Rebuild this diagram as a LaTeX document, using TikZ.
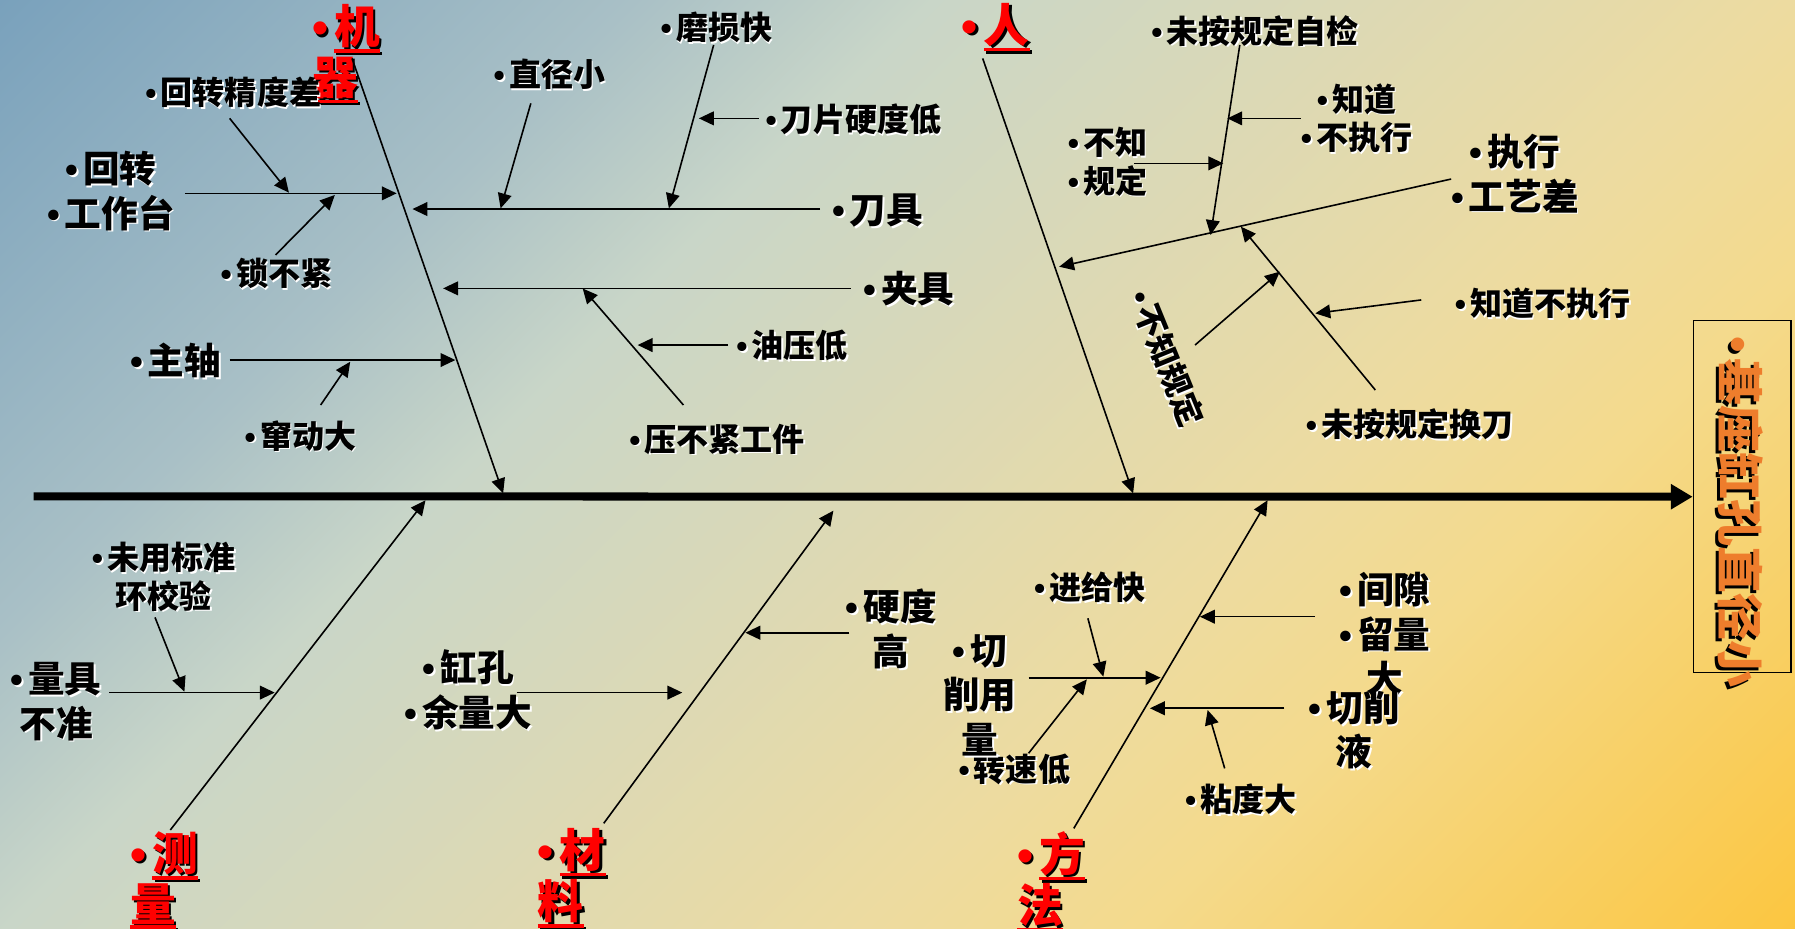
\documentclass[tikz,border=0pt]{standalone}
\usepackage{fontspec}
\setmainfont{Noto Sans CJK SC}
\newfontfamily\lat{Liberation Sans}
\usetikzlibrary{arrows.meta}
\definecolor{bgA}{HTML}{79A1BC}
\definecolor{bgB}{HTML}{A9C0C6}
\definecolor{bgC}{HTML}{C9D6C8}
\definecolor{bgD}{HTML}{DCD9B5}
\definecolor{bgE}{HTML}{EDDBA0}
\definecolor{bgF}{HTML}{F4DA8C}
\definecolor{bgG}{HTML}{FCC640}
\definecolor{ttlc}{HTML}{EE7D2C}
\pgfdeclarehorizontalshading{bgshade}{100bp}{color(0bp)=(bgA); color(23bp)=(bgA); color(35.6bp)=(bgB); color(41.5bp)=(bgC); color(50bp)=(bgD); color(58.5bp)=(bgE); color(64bp)=(bgF); color(77bp)=(bgG); color(100bp)=(bgG)}
\newcommand\bl{{\lat •}\hspace{0.13em}}
\newcommand\sw[1]{\leavevmode\rlap{\kern1.5pt\raisebox{-1.5pt}{\color{white}#1}}#1}
\newcommand\sr[1]{\leavevmode\rlap{\kern2pt\raisebox{-2pt}{\color{black}#1}}{\color{red}#1}}
\newcommand\so[1]{\leavevmode\rlap{\kern2.5pt\raisebox{-2.5pt}{\color{black}#1}}{\color{ttlc}#1}}
\newcommand\ul[1]{\vtop{\hbox{#1}\kern1pt\hrule height 3pt}}
\tikzset{
  sm/.style={inner sep=0pt, font=\fontsize{28}{33.5}\selectfont\bfseries, align=center},
  lg/.style={inner sep=0pt, font=\fontsize{32}{39}\selectfont\bfseries, align=center},
  hd/.style={inner sep=0pt, font=\fontsize{40}{44}\selectfont\bfseries, align=left, anchor=west},
  ar/.style={line width=1.4pt, -{Triangle[length=13pt,width=12pt]}},
  spinestyle/.style={line width=7pt, -{Triangle[length=19pt,width=21pt]}}
}
\begin{document}
\begin{tikzpicture}[x=1pt,y=-1pt]
\useasboundingbox (0,0) rectangle (1568,811);
\begin{scope}
\clip (0,0) rectangle (1568,811);
\shade[shading=bgshade, shading angle=-45] (0,-378.5) rectangle (1568,1189.5);
\end{scope}

% effect box and title
\node[draw, line width=1.3pt, minimum width=85.3pt, minimum height=307.5pt, inner sep=0pt] (box) at (1521.9,433.9) {};
\node[rotate=-90, inner sep=0pt, font=\fontsize{41}{41}\selectfont\bfseries] (ttl) at (1519,447) {\so{\bl 基座缸孔直径小}};

% spine
\coordinate (sp0) at (29.4,433.6);
\draw[spinestyle] (sp0) -- (box.west);

% headings
\node[hd] (jq) at (272.5,48) {\sr{\bl\ul{机}}\\\sr{\ul{器}}};
\node[hd] (ren) at (840,25) {\sr{\bl\ul{人}}};
\node[hd] (cl) at (113.7,770) {\sr{\bl\ul{测}}\\\sr{\ul{量}}};
\node[hd] (cai) at (469.7,768) {\sr{\bl\ul{材}}\\\sr{\ul{料}}};
\node[hd] (ff) at (888.5,771) {\sr{\bl\ul{方}}\\\sr{\ul{法}}};

% small labels
\node[sm] (jdc) at (203.8,81.5) {\sw{\bl 回转精度差}};
\node[sm] (sbj) at (241.5,239.4) {\sw{\bl 锁不紧}};
\node[sm] (cdd) at (262.4,381.4) {\sw{\bl 窜动大}};
\node[sm] (zjx) at (480,65.5) {\sw{\bl 直径小}};
\node[sm] (msk) at (625.9,24.7) {\sw{\bl 磨损快}};
\node[sm] (dpy) at (745.5,104.8) {\sw{\bl 刀片硬度低}};
\node[sm] (yyd) at (692,302.8) {\sw{\bl 油压低}};
\node[sm] (ybj) at (626.5,384.4) {\sw{\bl 压不紧工件}};
\node[sm] (wzj) at (1096.4,27.7) {\sw{\bl 未按规定自检}};
\node[sm] (zdb) at (1185,104) {\sw{\bl 知道}\\\sw{\bl 不执行}};
\node[sm] (bzg) at (967.5,142) {\sw{\bl 不知}\\\sw{\bl 规定}};
\node[sm, rotate=-67.8] (bzgd) at (1019,313) {\sw{\bl 不知规定}};
\node[sm] (hdj) at (1231.4,371.2) {\sw{\bl 未按规定换刀}};
\node[sm] (zdbz) at (1347.5,265.6) {\sw{\bl 知道不执行}};
\node[sm] (wyb) at (142.9,504.5) {\sw{\bl 未用标准}\\\sw{环校验}};
\node[sm] (jgk) at (952,513.9) {\sw{\bl 进给快}};
\node[sm] (zsd) at (886,672.6) {\sw{\bl 转速低}};
\node[sm] (ndd) at (1084,698.8) {\sw{\bl 粘度大}};

% large labels
\node[lg] (hzt) at (96.9,167.5) {\sw{\bl 回转}\\\sw{\bl 工作台}};
\node[lg] (zz) at (153.5,316) {\sw{\bl 主轴}};
\node[lg] (dj) at (766.8,185) {\sw{\bl 刀具}};
\node[lg] (jj) at (794.2,252.7) {\sw{\bl 夹具}};
\node[lg] (zx) at (1323.4,152.2) {\sw{\bl 执行}\\\sw{\bl 工艺差}};
\node[lg] (lj) at (49,613.5) {\sw{\bl 量具}\\\sw{不准}};
\node[lg] (gk) at (409,603.4) {\sw{\bl 缸孔}\\\sw{\bl 余量大}};
\node[lg] (yd) at (778.5,550.4) {\sw{\bl 硬度}\\\sw{高}};
\node[lg] (qx) at (856,608) {\sw{\bl 切}\\\sw{削用}\\\sw{量}};
\node[lg] (jx) at (1209.8,554.7) {\sw{\bl 间隙}\\\sw{\bl 留量}\\\sw{大}};
\node[lg] (qy) at (1183,638.2) {\sw{\bl 切削}\\\sw{液}};

% ---------- coordinates ----------
\coordinate (mA) at (307.5,51);   \coordinate (mB) at (439.5,431);
\coordinate (pA) at (858.4,51);   \coordinate (pB) at (989.8,431);
\coordinate (cA) at (148.8,725);  \coordinate (cB) at (371.7,437);
\coordinate (tA) at (527.4,719.2);\coordinate (tB) at (728,446.1);
\coordinate (fA) at (938,723.6);  \coordinate (fB) at (1107.3,437);
\coordinate (hzA) at (161.5,168.9); \coordinate (hzB) at (346.5,168.9);
\coordinate (jdA) at (200.6,103.4); \coordinate (jdB) at (252.4,168.3);
\coordinate (sbA) at (240.7,222.7); \coordinate (sbB) at (292.5,170.3);
\coordinate (djA) at (716.3,182.6); \coordinate (djB) at (360.3,182.6);
\coordinate (zjA) at (463.7,90.3);  \coordinate (zjB) at (437.3,182);
\coordinate (msA) at (623.4,39.3);  \coordinate (msB) at (584.3,182);
\coordinate (dpA) at (662.8,103.4); \coordinate (dpB) at (610.5,103.4);
\coordinate (jjA) at (743,251.9);   \coordinate (jjB) at (387.1,251.9);
\coordinate (ybA) at (597,353.8);   \coordinate (ybB) at (509,252);
\coordinate (yyA) at (636.1,301.4); \coordinate (yyB) at (557,301.4);
\coordinate (zzA) at (200.6,314.5); \coordinate (zzB) at (397.8,314.5);
\coordinate (cdA) at (280.1,353.8); \coordinate (cdB) at (305.9,316);
\coordinate (zxA) at (1267.6,156.4); \coordinate (zxB) at (925.2,233);
\coordinate (wzA) at (1083,39.3);    \coordinate (wzB) at (1057.5,205.3);
\coordinate (zdA) at (1136.1,103.4); \coordinate (zdB) at (1072.1,103.4);
\coordinate (bgA) at (990.6,142.7);  \coordinate (bgB) at (1068.6,142.7);
\coordinate (hdA) at (1201.4,340.7); \coordinate (hdB) at (1084,198);
\coordinate (bdA) at (1043.9,301.4); \coordinate (bdB) at (1118,237.3);
\coordinate (zbA) at (1241.5,262);   \coordinate (zbB) at (1149,273.7);
\coordinate (ljA) at (95.3,605);  \coordinate (ljB) at (240,605);
\coordinate (wyA) at (135.4,539.3); \coordinate (wyB) at (161.1,604.2);
\coordinate (gkA) at (451.3,605); \coordinate (gkB) at (596,605);
\coordinate (ydA) at (742,552.7); \coordinate (ydB) at (651.1,552.7);
\coordinate (qxA) at (898.5,592);  \coordinate (qxB) at (1013.8,592);
\coordinate (jgA) at (950.3,540.1); \coordinate (jgB) at (963.8,591.1);
\coordinate (zsA) at (898.5,658);  \coordinate (zsB) at (949.4,593.4);
\coordinate (jxA) at (1148.7,538.7); \coordinate (jxB) at (1048.2,538.7);
\coordinate (qyA) at (1121.9,618.7); \coordinate (qyB) at (1004.5,618.7);
\coordinate (ndA) at (1069.8,671.2); \coordinate (ndB) at (1054.9,620.2);

% ---------- connectors ----------
\foreach \a/\b in {mA/mB,pA/pB,cA/cB,tA/tB,fA/fB,
  hzA/hzB,jdA/jdB,sbA/sbB,djA/djB,zjA/zjB,msA/msB,dpA/dpB,jjA/jjB,ybA/ybB,yyA/yyB,zzA/zzB,cdA/cdB,
  zxA/zxB,wzA/wzB,zdA/zdB,bgA/bgB,hdA/hdB,bdA/bdB,zbA/zbB,
  ljA/ljB,wyA/wyB,gkA/gkB,ydA/ydB,
  qxA/qxB,jgA/jgB,zsA/zsB,jxA/jxB,qyA/qyB,ndA/ndB}
  \draw[ar] (\a) -- (\b);
\end{tikzpicture}
\end{document}
